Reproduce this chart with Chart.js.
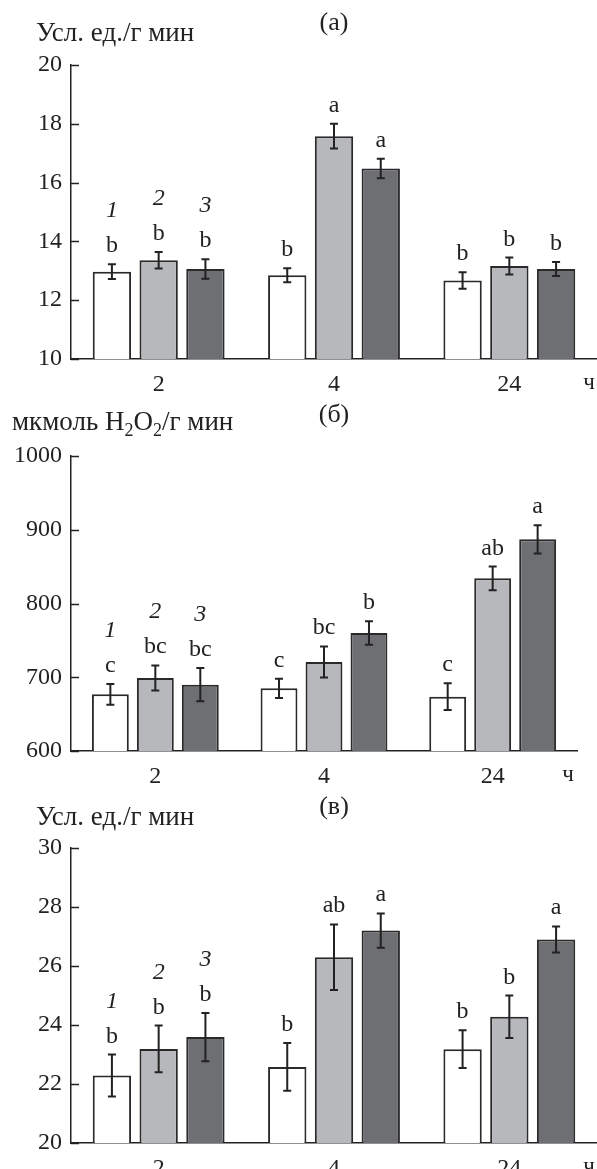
<!DOCTYPE html>
<html lang="ru">
<head>
<meta charset="utf-8">
<script src="https://cdn.jsdelivr.net/npm/chart.js@4.4.1/dist/chart.umd.min.js"></script>
<style>
  body { margin: 0; background: #fff; width: 597px; height: 1169px; overflow: hidden; position: relative; }
  canvas { position: absolute; left: 0; }
</style>
</head>
<body>
<canvas id="chartA" width="597" height="400" style="top:0"></canvas>
<canvas id="chartB" width="597" height="400" style="top:391px"></canvas>
<canvas id="chartC" width="597" height="400" style="top:783px"></canvas>
<script>
const hours = ['2', '4', '24'];
const seriesNames = ['1', '2', '3'];
const fills = ['#ffffff', '#b7b8bb', '#6e6f73'];

// (а) Усл. ед./г мин
const aMean1 = [12.97, 12.85, 12.67];
const aMean2 = [13.36, 17.58, 13.16];
const aMean3 = [13.06, 16.48, 13.06];
const aErr1 = [0.25, 0.24, 0.28];
const aErr2 = [0.28, 0.42, 0.29];
const aErr3 = [0.33, 0.33, 0.24];
const aLet1 = ['b', 'b', 'b'];
const aLet2 = ['b', 'a', 'b'];
const aLet3 = ['b', 'a', 'b'];

// (б) мкмоль H2O2/г мин
const bMean1 = [676.8, 685, 673.7];
const bMean2 = [699, 720.7, 834.1];
const bMean3 = [690, 760, 887];
const bErr1 = [14.2, 13.1, 18];
const bErr2 = [17, 21, 16];
const bErr3 = [22.4, 15.8, 19.2];
const bLet1 = ['c', 'c', 'c'];
const bLet2 = ['bc', 'bc', 'ab'];
const bLet3 = ['bc', 'b', 'a'];

// (в) Усл. ед./г мин
const cMean1 = [22.29, 22.58, 23.18];
const cMean2 = [23.19, 26.3, 24.28];
const cMean3 = [23.59, 27.2, 26.9];
const cErr1 = [0.71, 0.81, 0.64];
const cErr2 = [0.79, 1.11, 0.72];
const cErr3 = [0.82, 0.58, 0.44];
const cLet1 = ['b', 'b', 'b'];
const cLet2 = ['b', 'ab', 'b'];
const cLet3 = ['b', 'a', 'a'];

const FONT = '"Liberation Serif", "Times New Roman", serif';
const INK = '#222222';

function drawUnitLabel(ctx, parts, x, y) {
  // parts: [text, isSubscript]
  let cx = x;
  parts.forEach(([txt, sub]) => {
    ctx.font = sub ? `18px ${FONT}` : `27px ${FONT}`;
    ctx.fillText(txt, cx, sub ? y + 8 : y);
    cx += ctx.measureText(txt).width;
  });
}

function makePanel(id, opt) {
  const extras = {
    id: 'extras',
    afterDatasetsDraw(chart) {
      const ctx = chart.ctx;
      const y = chart.scales.y;
      const area = chart.chartArea;
      ctx.save();
      ctx.strokeStyle = INK;
      ctx.fillStyle = INK;

      // short ticks pointing into the plot
      ctx.lineWidth = 1.5;
      y.ticks.forEach(t => {
        const py = Math.round(y.getPixelForValue(t.value)) + 0.5;
        ctx.beginPath();
        ctx.moveTo(area.left, py);
        ctx.lineTo(area.left + 8, py);
        ctx.stroke();
      });

      // error bars, letters, series numbers
      opt.means.forEach((vals, di) => {
        const meta = chart.getDatasetMeta(di);
        meta.data.forEach((bar, i) => {
          const m = vals[i], e = opt.errs[di][i];
          const top = y.getPixelForValue(m + e);
          const bot = y.getPixelForValue(m - e);
          ctx.lineWidth = 2;
          ctx.beginPath();
          ctx.moveTo(bar.x, top); ctx.lineTo(bar.x, bot);
          ctx.moveTo(bar.x - 4, top); ctx.lineTo(bar.x + 4, top);
          ctx.moveTo(bar.x - 4, bot); ctx.lineTo(bar.x + 4, bot);
          ctx.stroke();

          ctx.textAlign = 'center';
          ctx.textBaseline = 'alphabetic';
          ctx.font = `24px ${FONT}`;
          ctx.fillText(opt.letters[di][i], bar.x, top - 12);
          if (i === 0) {
            ctx.font = `italic 24px ${FONT}`;
            ctx.fillText(seriesNames[di], bar.x, top - 47);
          }
        });
      });

      // panel title, unit label, "ч"
      ctx.textBaseline = 'middle';
      ctx.textAlign = 'center';
      ctx.font = `26px ${FONT}`;
      ctx.fillText(opt.title, 334, opt.titleY);
      ctx.textAlign = 'left';
      drawUnitLabel(ctx, opt.unit, opt.unitX, opt.unitY);
      ctx.font = `23px ${FONT}`;
      ctx.textAlign = 'center';
      ctx.fillText('ч', opt.hX, area.bottom + 24);
      ctx.restore();
    }
  };

  return new Chart(document.getElementById(id), {
    type: 'bar',
    data: {
      labels: hours,
      datasets: opt.means.map((d, i) => ({
        label: seriesNames[i],
        data: d,
        backgroundColor: fills[i],
        borderColor: '#2a2a2a',
        borderWidth: 2,
        categoryPercentage: 0.8,
        barPercentage: 0.82
      }))
    },
    options: {
      responsive: false,
      animation: false,
      layout: { padding: { top: opt.padTop, right: opt.padRight, left: 0, bottom: 0 } },
      plugins: { legend: { display: false }, tooltip: { enabled: false } },
      scales: {
        x: {
          grid: { display: false, drawTicks: false },
          border: { color: INK, width: 1.5 },
          ticks: { font: { family: FONT, size: 24 }, color: INK, padding: 11 },
          afterFit: s => { s.height = opt.xHeight; }
        },
        y: {
          min: opt.min,
          max: opt.max,
          ticks: {
            stepSize: opt.step,
            font: { family: FONT, size: 24 },
            color: INK,
            padding: 9,
            callback: v => String(v)
          },
          grid: { display: false, drawTicks: false },
          border: { color: INK, width: 1.5 },
          afterFit: s => { s.width = 71; }
        }
      }
    },
    plugins: [extras]
  });
}

makePanel('chartA', {
  means: [aMean1, aMean2, aMean3],
  errs: [aErr1, aErr2, aErr3],
  letters: [aLet1, aLet2, aLet3],
  min: 10, max: 20, step: 2,
  padTop: 65, padRight: -3, xHeight: 41,
  title: '(а)', titleY: 23,
  unit: [['Усл. ед./г мин', false]], unitX: 36, unitY: 34,
  hX: 589
});

makePanel('chartB', {
  means: [bMean1, bMean2, bMean3],
  errs: [bErr1, bErr2, bErr3],
  letters: [bLet1, bLet2, bLet3],
  min: 600, max: 1000, step: 100,
  padTop: 65, padRight: 20, xHeight: 40,
  title: '(б)', titleY: 24,
  unit: [['мкмоль H', false], ['2', true], ['O', false], ['2', true], ['/г мин', false]], unitX: 12, unitY: 32,
  hX: 568
});

makePanel('chartC', {
  means: [cMean1, cMean2, cMean3],
  errs: [cErr1, cErr2, cErr3],
  letters: [cLet1, cLet2, cLet3],
  min: 20, max: 30, step: 2,
  padTop: 65, padRight: -3, xHeight: 40,
  title: '(в)', titleY: 24,
  unit: [['Усл. ед./г мин', false]], unitX: 36, unitY: 35,
  hX: 589
});
</script>
</body>
</html>
